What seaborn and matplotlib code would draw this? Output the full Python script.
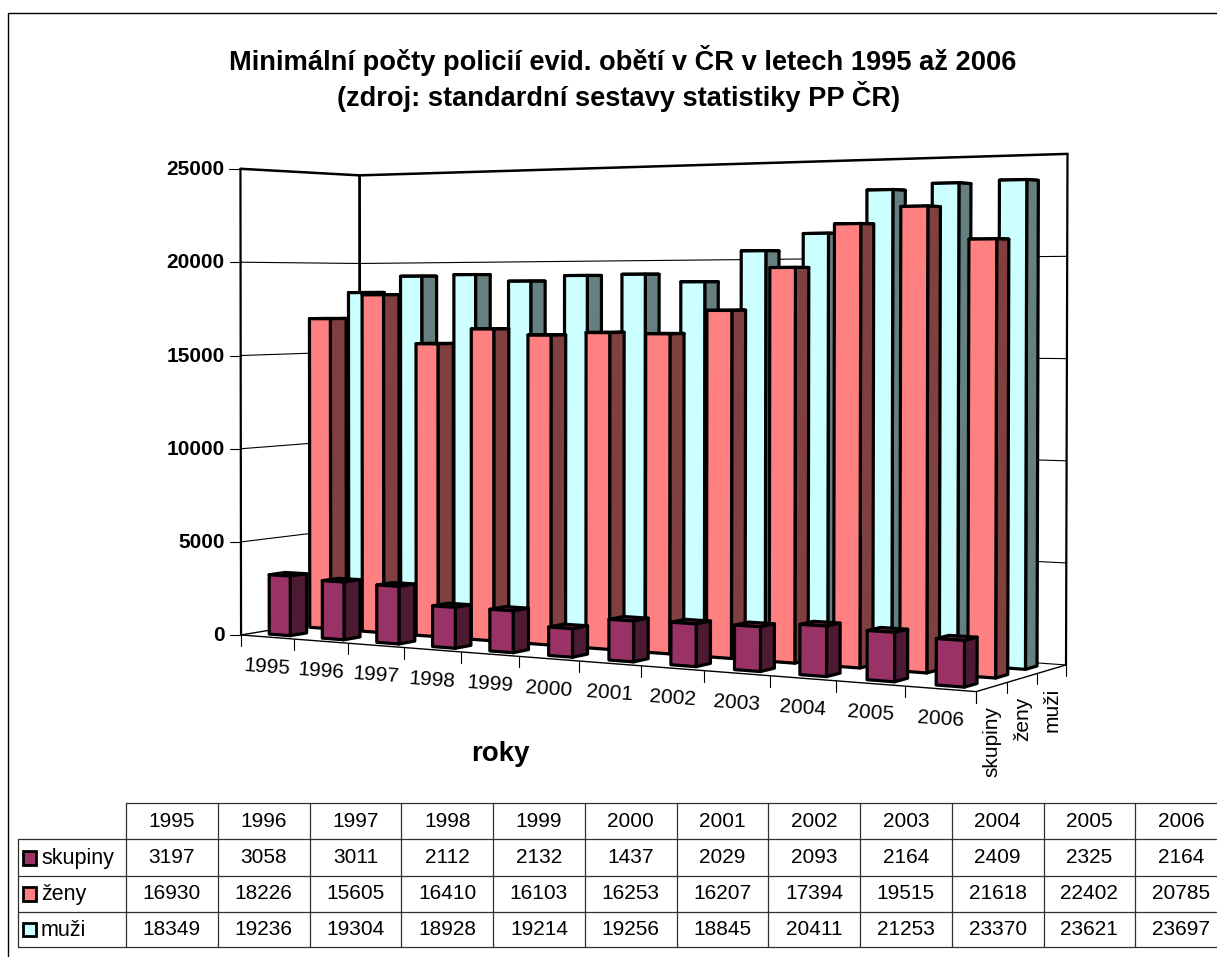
import numpy as np
import pandas as pd
import seaborn as sns
from matplotlib import pyplot as plt
from matplotlib.patches import Polygon, Rectangle

sns.set_style("white")
plt.rcParams['font.family'] = ['Liberation Sans', 'DejaVu Sans']

years = [1995, 1996, 1997, 1998, 1999, 2000, 2001, 2002, 2003, 2004, 2005, 2006]
skupiny = [3197, 3058, 3011, 2112, 2132, 1437, 2029, 2093, 2164, 2409, 2325, 2164]
zeny = [16930, 18226, 15605, 16410, 16103, 16253, 16207, 17394, 19515, 21618, 22402, 20785]
muzi = [18349, 19236, 19304, 18928, 19214, 19256, 18845, 20411, 21253, 23370, 23621, 23697]
series_names = ['skupiny', 'ženy', 'muži']
value_ticks = [0, 5000, 10000, 15000, 20000, 25000]
zmax = 25000

palette = sns.color_palette(['#993366', '#FF8080', '#CCFFFF'])

data = pd.DataFrame({'rok': years, 'skupiny': skupiny, 'ženy': zeny, 'muži': muzi})

# perspective camera fitted on the box corners seen in the chart: (year, depth, value) -> pixel
box = np.array([
    (0, 0, 0, 241.5, 635.7), (1, 0, 0, 976, 691), (1, 1, 0, 1066.5, 665.5), (0, 1, 0, 359.5, 614),
    (0, 0, 1, 240.5, 168), (0, 1, 1, 359.5, 176), (1, 1, 1, 1067.5, 154),
    (1 / 12, 0, 0, 294, 640), (2 / 12, 0, 0, 348, 643), (11 / 12, 0, 0, 905, 686),
])
A = []
b = []
for u, d, t, px, py in box:
    A.append([u, d, t, 1, 0, 0, 0, 0, -px * u, -px * d, -px * t])
    A.append([0, 0, 0, 0, u, d, t, 1, -py * u, -py * d, -py * t])
    b += [px, py]
cam = np.linalg.lstsq(np.array(A), np.array(b), rcond=None)[0]
cam = np.append(cam, 1).reshape(3, 4)


def proj(u, d, z):
    p = cam @ np.array([u, d, z / zmax, 1.0])
    return p[0] / p[2], p[1] / p[2]


fig = plt.figure(figsize=(12.17, 9.57), dpi=100)
ax = fig.add_axes([0, 0, 1, 1])
ax.set_xlim(0, 1217)
ax.set_ylim(957, 0)
ax.axis('off')


def line(p, q, lw=1.0, color='k'):
    ax.plot([p[0], q[0]], [p[1], q[1]], color=color, lw=lw, solid_capstyle='round', zorder=2)


# outer frame
ax.add_patch(Rectangle((8, 12.5), 1300, 1000, fc='white', ec='k', lw=1.0, zorder=0))

# walls and gridlines
for z in value_ticks:
    left = proj(0, 0, z)
    line((left[0] - 11, left[1]), left, 0.8)
    if z > 0:
        line(left, proj(0, 1, z), 0.8)
        line(proj(0, 1, z), proj(1, 1, z), 0.8)
line(proj(0, 0, 0), proj(0, 0, zmax), 1.6)
line(proj(0, 1, 0), proj(0, 1, zmax), 2.0)
line(proj(1, 1, 0), proj(1, 1, zmax), 1.6)
line(proj(0, 0, zmax), proj(0, 1, zmax), 1.8)
line(proj(0, 1, zmax), proj(1, 1, zmax), 1.8)
line(proj(0, 0, 0), proj(0, 1, 0), 1.0)
line(proj(0, 1, 0), proj(1, 1, 0), 0.8)
line(proj(0, 0, 0), proj(1, 0, 0), 1.0)
line(proj(1, 0, 0), proj(1, 1, 0), 1.0)

# axis ticks on the floor edges
for i in range(len(years) + 1):
    p = proj(i / len(years), 0, 0)
    line(p, (p[0], p[1] + 11), 0.8)
for i in range(len(series_names) + 1):
    p = proj(1, i / len(series_names), 0)
    line(p, (p[0], p[1] + 11), 0.8)

# bars, back row first, left to right
bw = 0.40
n = len(years)
m = len(series_names)
for s in reversed(range(m)):
    name = series_names[s]
    col = np.array(palette[s])
    for i, v in enumerate(data[name]):
        u0, u1 = (i + 0.5 - bw / 2) / n, (i + 0.5 + bw / 2) / n
        d0, d1 = (s + 0.5 - bw / 2) / m, (s + 0.5 + bw / 2) / m
        top = [proj(u0, d0, v), proj(u1, d0, v), proj(u1, d1, v), proj(u0, d1, v)]
        front = [proj(u0, d0, 0), proj(u1, d0, 0), proj(u1, d0, v), proj(u0, d0, v)]
        side = [proj(u1, d0, 0), proj(u1, d1, 0), proj(u1, d1, v), proj(u1, d0, v)]
        for verts, shade in [(top, 0.75), (side, 0.5), (front, 1.0)]:
            ax.add_patch(Polygon(verts, closed=True, fc=col * shade, ec='k', lw=2.3,
                                 joinstyle='round', zorder=3))

# texts of the plot
ax.text(623, 60, 'Minimální počty policií evid. obětí v ČR v letech 1995 až 2006',
        ha='center', va='center', fontsize=19.6, fontweight='bold', color='k')
ax.text(619, 97, '(zdroj: standardní sestavy statistiky PP ČR)',
        ha='center', va='center', fontsize=19.6, fontweight='bold', color='k')
for z in value_ticks:
    p = proj(0, 0, z)
    ax.text(p[0] - 16, p[1] + 0.5, str(z), ha='right', va='center', fontsize=15, fontweight='bold', color='k')
for i, y in enumerate(years):
    p = proj((i + 0.5) / n, 0, 0)
    ax.text(p[0], p[1] + 30, str(y), ha='center', va='center', rotation=-4,
            rotation_mode='anchor', fontsize=15, color='k')
for s, name in enumerate(series_names):
    p = proj(1, (s + 0.5) / m, 0)
    ax.text(p[0], p[1] + 19, name, ha='center', va='top', rotation=90, fontsize=15, color='k')
ax.text(500, 754, 'roky', ha='center', va='center', fontsize=20, fontweight='bold', color='k')

# data table under the plot
row_y = [802.5, 839, 876, 911.5, 947]
col_x = [17.5] + [126 + 91.75 * k for k in range(n + 1)]
tcol = '#303030'
ax.plot([col_x[1], 1217], [row_y[0], row_y[0]], color=tcol, lw=0.9, zorder=2)
for y in row_y[1:]:
    ax.plot([col_x[0], 1217], [y, y], color=tcol, lw=0.9, zorder=2)
ax.plot([col_x[0], col_x[0]], [row_y[1], row_y[-1]], color=tcol, lw=0.9, zorder=2)
for x in col_x[1:]:
    ax.plot([x, x], [row_y[0], row_y[-1]], color=tcol, lw=0.9, zorder=2)
for i, y in enumerate(years):
    cx = (col_x[i + 1] + col_x[i + 2]) / 2
    ax.text(cx, (row_y[0] + row_y[1]) / 2 + 1, str(y), ha='center', va='center', fontsize=15, color='k')
for s, name in enumerate(series_names):
    cy = (row_y[s + 1] + row_y[s + 2]) / 2
    ax.add_patch(Rectangle((22.5, cy - 6.5), 13.5, 13.5, fc=palette[s], ec='k', lw=2.0, zorder=3))
    ax.text(41, cy + 1, name, ha='left', va='center', fontsize=15.5, color='k')
    for i, v in enumerate(data[name]):
        cx = (col_x[i + 1] + col_x[i + 2]) / 2
        ax.text(cx, cy, str(v), ha='center', va='center', fontsize=15, color='k')

fig.savefig('out.png', dpi=100, facecolor='white')
